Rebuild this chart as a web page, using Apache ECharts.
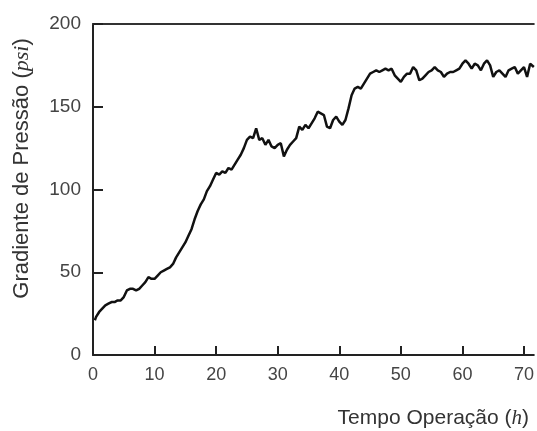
<!DOCTYPE html>
<html>
<head>
<meta charset="utf-8">
<script src="https://cdn.jsdelivr.net/npm/echarts@6/dist/echarts.min.js"></script>
<style>
  html, body { margin: 0; padding: 0; background: #fff; }
</style>
</head>
<body>
<div id="chart" style="width: 537px;height: 431px"></div>
<script>
// operating time (h)
const hours = [0.3, 0.5, 1, 1.5, 2, 2.5, 3, 3.5, 4, 4.5, 5, 5.5, 6, 6.5, 7, 7.5, 8, 8.5, 9, 9.5,
  10, 10.5, 11, 11.5, 12, 12.5, 13, 13.5, 14, 14.5, 15, 15.5, 16, 16.5, 17, 17.5, 18, 18.5, 19, 19.5,
  20, 20.5, 21, 21.5, 22, 22.5, 23, 23.5, 24, 24.5, 25, 25.5, 26, 26.5, 27, 27.5, 28, 28.5, 29, 29.5,
  30, 30.5, 31, 31.5, 32, 32.5, 33, 33.5, 34, 34.5, 35, 35.5, 36, 36.5, 37, 37.5, 38, 38.5, 39, 39.5,
  40, 40.5, 41, 41.5, 42, 42.5, 43, 43.5, 44, 44.5, 45, 45.5, 46, 46.5, 47, 47.5, 48, 48.5, 49, 49.5,
  50, 50.5, 51, 51.5, 52, 52.5, 53, 53.5, 54, 54.5, 55, 55.5, 56, 56.5, 57, 57.5, 58, 58.5, 59, 59.5,
  60, 60.5, 61, 61.5, 62, 62.5, 63, 63.5, 64, 64.5, 65, 65.5, 66, 66.5, 67, 67.5, 68, 68.5, 69, 69.5,
  70, 70.5, 71, 71.6]
// pressure gradient (psi)
const psi = [21, 23, 26, 28, 30, 31, 32, 32, 33, 33, 35, 39, 40, 40, 39, 40, 42, 44, 47, 46,
  46, 48, 50, 51, 52, 53, 55, 59, 62, 65, 68, 72, 76, 82, 87, 91, 94, 99, 102, 106,
  110, 109, 111, 110, 113, 112, 115, 118, 121, 125, 130, 132, 131, 137, 130, 131, 127, 130, 126, 125,
  127, 128, 120, 124, 127, 129, 131, 138, 136, 139, 137, 140, 143, 147, 146, 145, 138, 137, 142, 144,
  141, 139, 142, 149, 157, 161, 162, 161, 164, 167, 170, 171, 172, 171, 172, 173, 172, 173, 169, 167,
  165, 168, 170, 170, 174, 172, 166, 167, 169, 171, 172, 174, 172, 171, 168, 170, 171, 171, 172, 173,
  176, 178, 176, 173, 176, 175, 172, 176, 178, 175, 168, 171, 172, 170, 168, 172, 173, 174, 170, 172,
  174, 168, 176, 174]
const xTicks = [0, 10, 20, 30, 40, 50, 60, 70]
const yTicks = [0, 50, 100, 150, 200]

const chart = echarts.init(document.getElementById('chart'))

const labelFont = 'Liberation Sans'
const italic = {fontFamily: 'Liberation Serif', fontStyle: 'italic', fontSize: 22, color: '#333'}

const option = {
  backgroundColor: '#fff',
  animation: false,
  grid: {
    left: 93,
    right: 0,
    top: 24,
    bottom: 76
  },
  title: {
    text: 'Tempo Operação ({i|h})',
    right: 3,
    top: 403,
    textStyle: {
      fontFamily: labelFont,
      fontWeight: 'normal',
      fontSize: 21,
      color: '#333',
      rich: {i: {...italic, fontSize: 21}}
    }
  },
  xAxis: [
    {
      type: 'value',
      min: xTicks[0],
      max: 71.6,
      interval: 10,
      splitLine: {show: false},
      axisLine: {lineStyle: {color: '#222', width: 2}},
      axisTick: {inside: true, length: 9, lineStyle: {color: '#222', width: 2}},
      axisLabel: {
        fontFamily: labelFont,
        fontSize: 18,
        color: '#444',
        margin: 11,
        showMaxLabel: false,
        formatter: v => xTicks.includes(v) ? String(v) : ''
      }
    },
    {
      // top frame line only
      type: 'value',
      position: 'top',
      min: 0,
      max: 71.6,
      axisLine: {show: true, lineStyle: {color: '#333', width: 2}},
      axisTick: {show: false},
      axisLabel: {show: false},
      splitLine: {show: false}
    }
  ],
  yAxis: {
    type: 'value',
    min: yTicks[0],
    max: yTicks[yTicks.length - 1],
    interval: 50,
    name: 'Gradiente de Pressão ({i|psi})',
    nameLocation: 'middle',
    nameGap: 60,
    nameTextStyle: {
      fontFamily: labelFont,
      fontSize: 22,
      color: '#333',
      padding: [0, 0, 0, 42],
      rich: {i: italic}
    },
    splitLine: {show: false},
    axisLine: {show: true, lineStyle: {color: '#222', width: 2}},
    axisTick: {show: true, inside: true, length: 10, lineStyle: {color: '#222', width: 2}},
    axisLabel: {
      fontFamily: labelFont,
      fontSize: 19,
      color: '#444',
      margin: 12
    }
  },
  series: [
    {
      type: 'line',
      data: hours.map((h, i) => [h, psi[i]]),
      showSymbol: false,
      lineStyle: {color: '#111', width: 2.5},
      clip: true
    }
  ]
}

chart.setOption(option)
</script>
</body>
</html>
